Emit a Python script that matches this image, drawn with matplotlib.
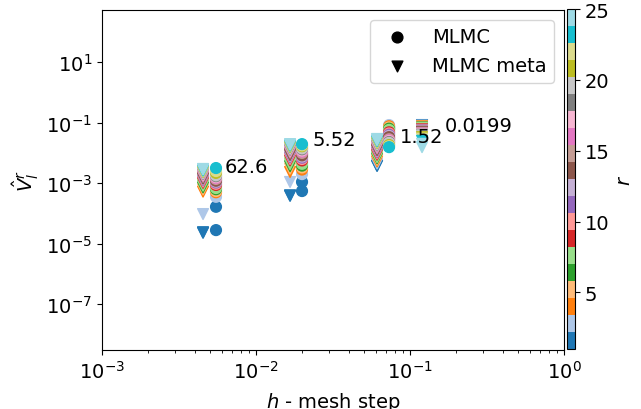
import numpy as np
import matplotlib
matplotlib.use("Agg")
import matplotlib.pyplot as plt
from matplotlib.colors import Normalize

# mesh steps
h_mlmc = [0.0055, 0.0199, 0.0731]
h_meta = [0.00453, 0.01664, 0.0611, 0.1197]

r_mlmc = list(range(1, 24))
r_meta = list(range(1, 26))

# log10 of V_l^r, MLMC (circles), one list per level
logV_mlmc_l0 = [-4.55, -3.78, -3.45, -3.30, -3.26, -3.20, -3.16, -3.10, -3.06, -3.02,
                -2.98, -2.95, -2.92, -2.89, -2.86, -2.83, -2.80, -2.77, -2.74, -2.70,
                -2.66, -2.60, -2.50]
logV_mlmc_l1 = [-3.26, -2.96, -2.70, -2.55, -2.48, -2.42, -2.36, -2.30, -2.25, -2.20,
                -2.16, -2.12, -2.08, -2.04, -2.00, -1.96, -1.92, -1.88, -1.85, -1.82,
                -1.78, -1.75, -1.71]
logV_mlmc_l2 = [-1.20, -1.15, -1.08, -1.12, -1.16, -1.20, -1.24, -1.28, -1.32, -1.36,
                -1.40, -1.44, -1.48, -1.52, -1.55, -1.58, -1.61, -1.64, -1.67, -1.71,
                -1.74, -1.78, -1.81]

# log10 of V_l^r, MLMC meta (triangles)
logV_meta_l0 = [-4.64, -4.62, -4.02, -3.28, -3.20, -3.14, -3.08, -3.03, -2.99, -2.95,
                -2.91, -2.88, -2.85, -2.82, -2.79, -2.76, -2.73, -2.70, -2.68, -2.66,
                -2.63, -2.61, -2.58, -2.55, -2.53]
logV_meta_l1 = [-3.42, -3.40, -2.96, -2.63, -2.52, -2.44, -2.37, -2.31, -2.25, -2.20,
                -2.15, -2.11, -2.07, -2.03, -1.99, -1.96, -1.93, -1.90, -1.87, -1.84,
                -1.81, -1.78, -1.76, -1.73, -1.71]
logV_meta_l2 = [-2.43, -2.42, -2.35, -2.28, -2.23, -2.18, -2.14, -2.10, -2.06, -2.02,
                -1.98, -1.94, -1.91, -1.88, -1.85, -1.82, -1.79, -1.76, -1.73, -1.70,
                -1.67, -1.64, -1.61, -1.58, -1.54]
logV_meta_l3 = [-1.08, -1.09, -1.10, -1.12, -1.14, -1.16, -1.18, -1.20, -1.22, -1.24,
                -1.26, -1.28, -1.30, -1.32, -1.34, -1.36, -1.38, -1.40, -1.42, -1.45,
                -1.48, -1.53, -1.60, -1.70, -1.81]

ann_text = ["62.6", "5.52", "1.52", "0.0199"]
ann_x = [0.00630, 0.0234, 0.0861, 0.1687]
ann_y = [0.00231, 0.0180, 0.0226, 0.0525]

fig = plt.figure(figsize=(6.41, 4.10), dpi=100)
ax = fig.add_axes([0.1591, 0.1439, 0.7208, 0.8293])
cax = fig.add_axes([0.8846, 0.1463, 0.0125, 0.8293])

cmap = plt.get_cmap("tab20")
norm = Normalize(vmin=1, vmax=25)
fs = 14

mlmc_levels = [logV_mlmc_l0, logV_mlmc_l1, logV_mlmc_l2]
meta_levels = [logV_meta_l0, logV_meta_l1, logV_meta_l2, logV_meta_l3]

for h, lv in zip(h_meta, meta_levels):
    ax.scatter([h] * len(lv), 10.0 ** np.array(lv), c=r_meta[:len(lv)], cmap=cmap,
               norm=norm, marker="v", s=60, zorder=2)
for h, lv in zip(h_mlmc, mlmc_levels):
    ax.scatter([h] * len(lv), 10.0 ** np.array(lv), c=r_mlmc[:len(lv)], cmap=cmap,
               norm=norm, marker="o", s=60, zorder=2)

for t, x, y in zip(ann_text, ann_x, ann_y):
    ax.text(x, y, t, fontsize=fs, zorder=3)

ax.scatter([], [], c="k", marker="o", s=60, label="MLMC")
ax.scatter([], [], c="k", marker="v", s=60, label="MLMC meta")
ax.legend(loc="upper right", fontsize=fs)

ax.set_xscale("log")
ax.set_yscale("log")
ax.set_xlim(1e-3, 1)
ax.set_ylim(10 ** -8.51, 10 ** 2.72)
ax.tick_params(labelsize=fs)
ax.set_xlabel("$h$ - mesh step", fontsize=fs, labelpad=6)
ax.set_ylabel(r"$\hat{V}_l^r$", fontsize=fs)

sm = plt.cm.ScalarMappable(norm=norm, cmap=cmap)
cb = fig.colorbar(sm, cax=cax)
cb.ax.tick_params(labelsize=fs)
cb.set_label("$r$", fontsize=fs)

fig.savefig("out.png", dpi=100)
